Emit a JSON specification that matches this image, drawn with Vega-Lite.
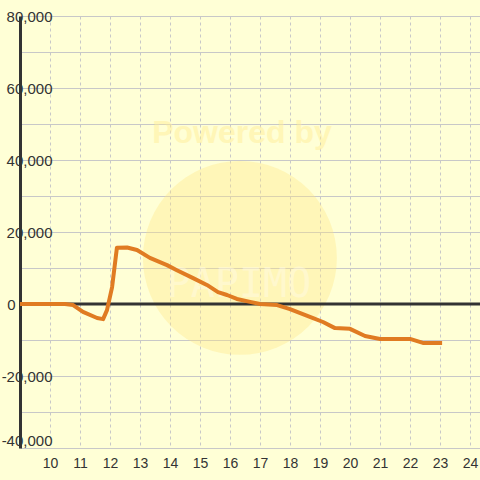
{
  "$schema": "https://vega.github.io/schema/vega-lite/v6.json",
  "width": 460,
  "height": 432,
  "autosize": {"type": "none"},
  "padding": {"left": 20, "top": 16, "right": 0, "bottom": 32},
  "background": "#ffffd6",
  "config": {"view": {"stroke": null}, "font": "Liberation Sans", "axis": {"labelOverlap": false}},
  "datasets": {
    "series": [
      {"hour": 9, "value": 0},
      {"hour": 10.5, "value": 0},
      {"hour": 10.77, "value": -300},
      {"hour": 11.1, "value": -2200},
      {"hour": 11.57, "value": -3900},
      {"hour": 11.77, "value": -4200},
      {"hour": 11.9, "value": -1700},
      {"hour": 12.07, "value": 4700},
      {"hour": 12.23, "value": 15600},
      {"hour": 12.57, "value": 15700},
      {"hour": 12.9, "value": 15000},
      {"hour": 13.33, "value": 12800},
      {"hour": 13.9, "value": 10800},
      {"hour": 14.23, "value": 9400},
      {"hour": 14.77, "value": 7200},
      {"hour": 15.23, "value": 5300},
      {"hour": 15.6, "value": 3300},
      {"hour": 15.9, "value": 2500},
      {"hour": 16.23, "value": 1400},
      {"hour": 16.67, "value": 600},
      {"hour": 17, "value": 0},
      {"hour": 17.57, "value": -300},
      {"hour": 18, "value": -1400},
      {"hour": 18.77, "value": -3900},
      {"hour": 19.1, "value": -5000},
      {"hour": 19.5, "value": -6700},
      {"hour": 20, "value": -6900},
      {"hour": 20.5, "value": -8900},
      {"hour": 21, "value": -9700},
      {"hour": 22, "value": -9700},
      {"hour": 22.43, "value": -10800},
      {"hour": 23.07, "value": -10800}
    ]
  },
  "encoding": {
    "x": {"field": "hour", "type": "quantitative", "scale": {"domain": [9, 24.333], "nice": false, "zero": false},
      "axis": {"values": [10, 11, 12, 13, 14, 15, 16, 17, 18, 19, 20, 21, 22, 23, 24], "title": null, "grid": true, "gridColor": "#c8c8c8", "gridDash": [3, 3], "gridWidth": 1, "domain": false, "ticks": false, "labelPadding": 8, "labelFontSize": 14, "labelColor": "#333333", "labelFlush": false, "labelOverlap": false, "labelBound": false}},
    "y": {"field": "value", "type": "quantitative", "scale": {"domain": [-40000, 80000], "nice": false, "zero": false},
      "axis": {"values": [-40000, -30000, -20000, -10000, 0, 10000, 20000, 30000, 40000, 50000, 60000, 70000, 80000],
        "labelExpr": "datum.value % 20000 !== 0 ? '' : (datum.value < 0 ? '-' + format(-datum.value, ',') : format(datum.value, ','))",
        "title": null, "grid": true, "gridColor": "#c8c8c8", "gridWidth": 1, "ticks": false, "domain": true, "domainColor": "#333333", "domainWidth": 3,
        "labelPadding": {"condition": {"test": "datum.value === 0", "value": 5}, "value": -32},
        "labelFontSize": 15, "labelColor": "#333333", "labelFlush": false, "labelOverlap": false, "labelBound": false,
        "labelBaseline": {"condition": {"test": "datum.value === -40000", "value": "bottom"}, "value": "middle"}}}
  },
  "layer": [
    {
      "data": {"values": [{"hour": 16.33, "value": 12800}]},
      "mark": {"type": "point", "filled": true, "size": 37600, "color": "#ffe680", "opacity": 0.35, "shape": "circle"}
    },
    {
      "data": {"values": [{"hour": 16.4, "value": 47500, "label": "Powered by"}]},
      "mark": {"type": "text", "fontSize": 32, "fontWeight": "bold", "color": "#ffee99", "opacity": 0.5},
      "encoding": {"text": {"field": "label"}}
    },
    {
      "data": {"values": [{"hour": 16.3, "value": 5200, "label": "PAPIMO"}]},
      "mark": {"type": "text", "fontSize": 40, "font": "DejaVu Sans Mono", "color": "#fffbe8", "opacity": 0.45},
      "encoding": {"text": {"field": "label"}}
    },
    {
      "data": {"values": [{"value": 0}]},
      "mark": {"type": "rule", "color": "#333333", "strokeWidth": 3},
      "encoding": {"x": null}
    },
    {
      "data": {"name": "series"},
      "mark": {"type": "line", "color": "#e07b22", "strokeWidth": 4, "strokeJoin": "round"}
    }
  ]
}
